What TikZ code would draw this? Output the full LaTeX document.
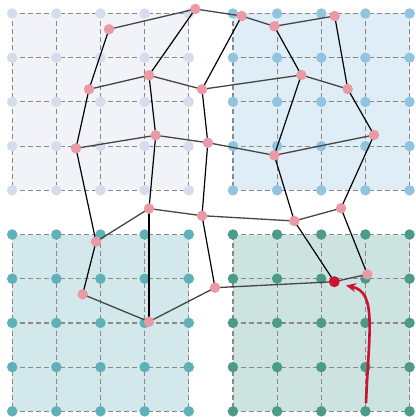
\documentclass[tikz,border=0pt]{standalone}
\usetikzlibrary{arrows.meta}
\definecolor{tlfill}{HTML}{F1F3F8}\definecolor{tlpt}{HTML}{D5DCEB}
\definecolor{trfill}{HTML}{DFEDF6}\definecolor{trpt}{HTML}{93C4DF}
\definecolor{blfill}{HTML}{D2E8EA}\definecolor{blpt}{HTML}{5EB1B8}
\definecolor{brfill}{HTML}{CDE3DF}\definecolor{brpt}{HTML}{4C9A89}
\definecolor{pinkpt}{HTML}{EA9AA5}\definecolor{redpt}{HTML}{CC1133}
\definecolor{hline}{HTML}{454545}
\definecolor{dashcol}{HTML}{888888}
\tikzset{
  gridln/.style={draw=dashcol, dash pattern=on 5pt off 3pt, line width=1.2pt},
  gpt/.style={circle, inner sep=0pt, minimum size=10.5pt, fill=#1},
  mpt/.style={circle, inner sep=0pt, minimum size=10.5pt, fill=pinkpt},
  vedge/.style={draw=black, line width=1.2pt},
  hedge/.style={draw=hline, line width=1.3pt},
}
\begin{document}
\begin{tikzpicture}[x=1pt,y=-1pt]
\useasboundingbox (0,0) rectangle (415,417);
% quadrant fills
\fill[tlfill] (12.2,13.5) rectangle (188.8,190.3);
\fill[trfill] (232.9,13.5) rectangle (409.5,190.3);
\fill[blfill] (12.2,234.5) rectangle (188.8,411.3);
\fill[brfill] (232.9,234.5) rectangle (409.5,411.3);
% grid coordinates
\foreach \i in {0,...,9}{
  \foreach \j in {0,...,9}{
    \coordinate (g-\i-\j) at ({12.2+44.15*\i},{13.5+44.2*\j});
  }
}
% dashed grid lines per quadrant
\foreach \a/\b in {0/4,5/9}{
  \foreach \c/\d in {0/4,5/9}{
    \foreach \k in {\a,...,\b}{
      \draw[gridln] (g-\k-\c) -- (g-\k-\d);
    }
    \foreach \k in {\c,...,\d}{
      \draw[gridln] (g-\a-\k) -- (g-\b-\k);
    }
  }
}
% grid points
\foreach \i in {0,...,9}{
  \foreach \j in {0,...,9}{
    \pgfmathtruncatemacro{\qi}{\i>4}
    \pgfmathtruncatemacro{\qj}{\j>4}
    \ifnum\qi=0 \ifnum\qj=0 \def\col{tlpt}\else\def\col{blpt}\fi
    \else \ifnum\qj=0 \def\col{trpt}\else\def\col{brpt}\fi\fi
    \node[gpt=\col] (p-\i-\j) at (g-\i-\j) {};
  }
}
% mesh points
\coordinate (A) at (195.3,9);
\coordinate (B) at (109,29.3);
\coordinate (C) at (149,75.3);
\coordinate (D) at (89,89.3);
\coordinate (E) at (202,89.3);
\coordinate (F) at (155.7,135.3);
\coordinate (G) at (76,148.3);
\coordinate (H) at (207.8,142.7);
\coordinate (I) at (149,208.6);
\coordinate (J) at (241.7,16);
\coordinate (K) at (274.3,26.3);
\coordinate (L) at (334.7,16);
\coordinate (M) at (301.3,75);
\coordinate (N) at (347.7,89);
\coordinate (O) at (374,135);
\coordinate (P) at (274.3,155.3);
\coordinate (Q) at (341,208.2);
\coordinate (R) at (202,215.7);
\coordinate (S) at (96,241.7);
\coordinate (T) at (82.7,294.3);
\coordinate (U) at (149,321.7);
\coordinate (V) at (294.3,221);
\coordinate (W) at (215,287.7);
\coordinate (X) at (334.3,281.7);
\coordinate (Y) at (367.3,274.3);
% horizontal edges
\foreach \a/\b in {B/A,A/J,J/K,K/L, D/C,C/E,E/M,M/N, G/F,F/H,H/P,P/O, S/I,I/R,R/V,V/Q, T/U,U/W,W/X,X/Y}{
  \draw[hedge] (\a) -- (\b);
}
% vertical edges
\foreach \a/\b in {B/D,D/G,G/S,S/T, A/C,C/F,F/I,I/U, J/E,E/H,H/R,R/W, K/M,M/P,P/V,V/X, L/N,N/O,O/Q,Q/Y}{
  \draw[vedge] (\a) -- (\b);
}
\foreach \n in {A,B,C,D,E,F,G,H,I,J,K,L,M,N,O,P,Q,R,S,T,U,V,W,Y}{
  \node[mpt] (m\n) at (\n) {};
}
\node[circle, inner sep=0pt, minimum size=11pt, fill=redpt] (mX) at (X) {};
% arrow
\coordinate (start) at (366,403);
\draw[redpt, line width=2.6pt, -{Stealth[length=10pt,width=9pt]}]
  (start) .. controls (369,330) and (377,292) .. (346,285.5);
\end{tikzpicture}
\end{document}
